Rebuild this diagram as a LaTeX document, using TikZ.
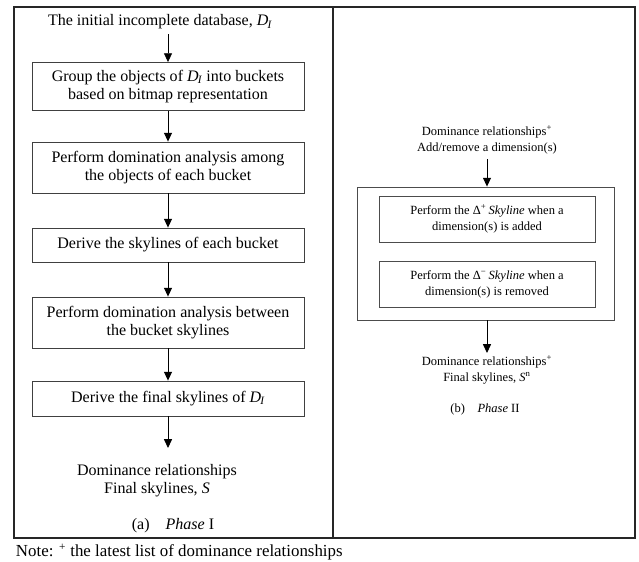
\documentclass[tikz,border=0pt]{standalone}
\usepackage{fontspec}
\setmainfont{Liberation Serif}
\usetikzlibrary{arrows.meta,positioning}
\tikzset
{
    process/.style={rectangle, draw=black!75, line width=0.6pt, minimum width=6.8cm, align=center, inner sep=0pt},
    subprocess/.style={rectangle, draw=black!70, line width=0.5pt, minimum width=5.4cm, minimum height=1.15cm, align=center, inner sep=0pt, font=\fontsize{8.9}{11.2}\selectfont},
    lefttext/.style={align=center, font=\fontsize{11.4}{12.8}\selectfont},
    righttext/.style={align=center, font=\fontsize{8.9}{11.2}\selectfont},
    arrow/.style={line width=0.6pt, -{Triangle[length=2.2mm,width=2mm]}},
}
\newcommand{\DI}{\textit{D\kern-0.05em\textsubscript{I}}}

\begin{document}
\begin{tikzpicture}[x=0.025cm, y=-0.025cm, font=\fontsize{11.4}{12.8}\selectfont]
		\useasboundingbox (0,0) rectangle (639,561);
		% frame of the two phases
		\draw[line width=0.9pt, black!85] (14,7) rectangle (635,538);
		\draw[line width=0.9pt, black!85] (333,7) -- (333,538);
		
		% phase I
		\node[lefttext] (init) at (160,22) {The initial incomplete database, \DI};
		\node[process, minimum height=1.2cm] (b1) at (168,86.5) {Group the objects of \DI{} into buckets\\based on bitmap representation};
		\node[process, minimum height=1.275cm] (b2) at (168,167.5) {Perform domination analysis among\\the objects of each bucket};
		\node[process, minimum height=0.85cm] (b3) at (168,245) {Derive the skylines of each bucket};
		\node[process, minimum height=1.275cm] (b4) at (168,322.5) {Perform domination analysis between\\the bucket skylines};
		\node[process, minimum height=0.875cm] (b5) at (168,398.5) {Derive the final skylines of \DI};
		\coordinate (e1) at (168,448);
		\node[lefttext] (res1) at (157,481) {Dominance relationships\\Final skylines, \textit{S}};
		\node[lefttext] (cap1) at (173,526) {(a)\quad\textit{Phase} I};
		
		\draw[arrow] (b1.north |- init.south) -- (b1.north);
		\draw[arrow] (b1) -- (b2);
		\draw[arrow] (b2) -- (b3);
		\draw[arrow] (b3) -- (b4);
		\draw[arrow] (b4) -- (b5);
		\draw[arrow] (b5) -- (e1);
		
		% phase II
		\node[righttext] (in2) at (487,140) {Dominance relationships\textsuperscript{+}\\Add/remove a dimension(s)};
		\node[draw=black!70, line width=0.6pt, minimum width=6.425cm, minimum height=3.325cm, inner sep=0pt] (outer) at (485.5,253.5) {};
		\node[subprocess] (add) at (487,219) {Perform the Δ\textsuperscript{+}\,\textit{Skyline} when a\\dimension(s) is added};
		\node[subprocess] (rem) at (487,284.5) {Perform the Δ\textsuperscript{−}\,\textit{Skyline} when a\\dimension(s) is removed};
		\coordinate (e2) at (487,353);
		\node[righttext] (res2) at (487,370) {Dominance relationships\textsuperscript{+}\\Final skylines, \textit{S}\textsuperscript{n}};
		\node[righttext] (cap2) at (485,409) {(b)\quad\textit{Phase} II};
		
		\draw[arrow] (in2.south) -- (in2.south |- outer.north);
		\draw[arrow] (outer.south -| e2) -- (e2);
		
		% note
		\node[anchor=west, font=\fontsize{12}{14}\selectfont] (note) at (11,552) {Note: \textsuperscript{+} the latest list of dominance relationships};
\end{tikzpicture}
\end{document}
